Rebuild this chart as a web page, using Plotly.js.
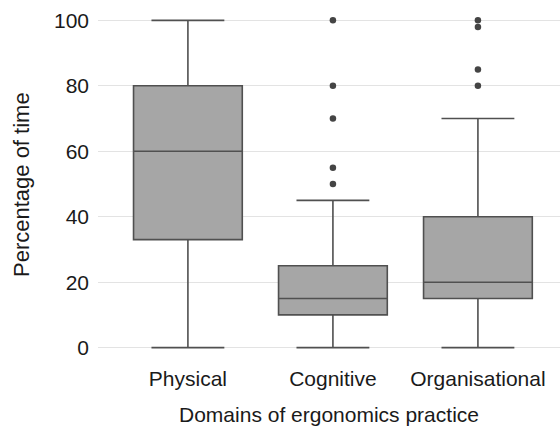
<!DOCTYPE html>
<html>
<head>
<meta charset="utf-8">
<script src="https://cdn.plot.ly/plotly-3.0.1.min.js"></script>
<style>html,body{margin:0;padding:0;background:#fff;}#chart{width:560px;height:432px;}</style>
</head>
<body>
<div id="chart"></div>
<script>
const categories = ["Physical", "Cognitive", "Organisational"];
const lowerWhisker = [0, 0, 0];
const q1Values = [33, 10, 15];
const medianValues = [60, 15, 20];
const q3Values = [80, 25, 40];
const upperWhisker = [100, 45, 70];
const outlierCategories = ["Cognitive", "Cognitive", "Cognitive", "Cognitive", "Cognitive",
  "Organisational", "Organisational", "Organisational", "Organisational"];
const outlierValues = [50, 55, 70, 80, 100, 80, 85, 98, 100];
const yTicks = [0, 20, 40, 60, 80, 100];
const xTitle = "Domains of ergonomics practice";
const yTitle = "Percentage of time";

const boxTrace = {
  type: "box",
  x: categories,
  q1: q1Values,
  median: medianValues,
  q3: q3Values,
  lowerfence: lowerWhisker,
  upperfence: upperWhisker,
  width: 0.75,
  whiskerwidth: 0.67,
  fillcolor: "#a6a6a6",
  line: {color: "#505050", width: 1.6},
  boxpoints: false,
  hoverinfo: "skip",
  showlegend: false
};
const outlierTrace = {
  type: "scatter",
  mode: "markers",
  x: outlierCategories,
  y: outlierValues,
  marker: {color: "#444444", size: 6.5},
  showlegend: false,
  hoverinfo: "skip"
};

const layout = {
  width: 560, height: 432,
  margin: {l: 98, r: 0, t: 4, b: 68},
  paper_bgcolor: "#ffffff",
  plot_bgcolor: "#ffffff",
  font: {family: "Liberation Sans, Arial, sans-serif", size: 21, color: "#1a1a1a"},
  showlegend: false,
  xaxis: {
    type: "category",
    categoryarray: categories,
    range: [-0.62, 2.566],
    showgrid: false,
    zeroline: false,
    showline: false,
    ticks: "",
    tickfont: {size: 21, color: "#1a1a1a"},
    title: {text: xTitle, font: {size: 21, color: "#1a1a1a"}, standoff: 18}
  },
  yaxis: {
    range: [-5, 105],
    tickvals: yTicks,
    ticktext: yTicks.map(String),
    showgrid: true,
    gridcolor: "#e3e3e3",
    gridwidth: 1.2,
    zeroline: false,
    showline: false,
    ticks: "",
    ticklabelstandoff: 8,
    tickfont: {size: 21, color: "#1a1a1a"},
    title: {text: ""}
  },
  annotations: [{
    text: yTitle,
    xref: "paper", yref: "paper",
    x: (21 - 98) / 462, y: (364 - 185) / 360,
    xanchor: "center", yanchor: "middle",
    textangle: -90,
    showarrow: false,
    font: {size: 22, color: "#1a1a1a"}
  }]
};

Plotly.newPlot("chart", [boxTrace, outlierTrace], layout, {displayModeBar: false, staticPlot: true});
</script>
</body>
</html>
